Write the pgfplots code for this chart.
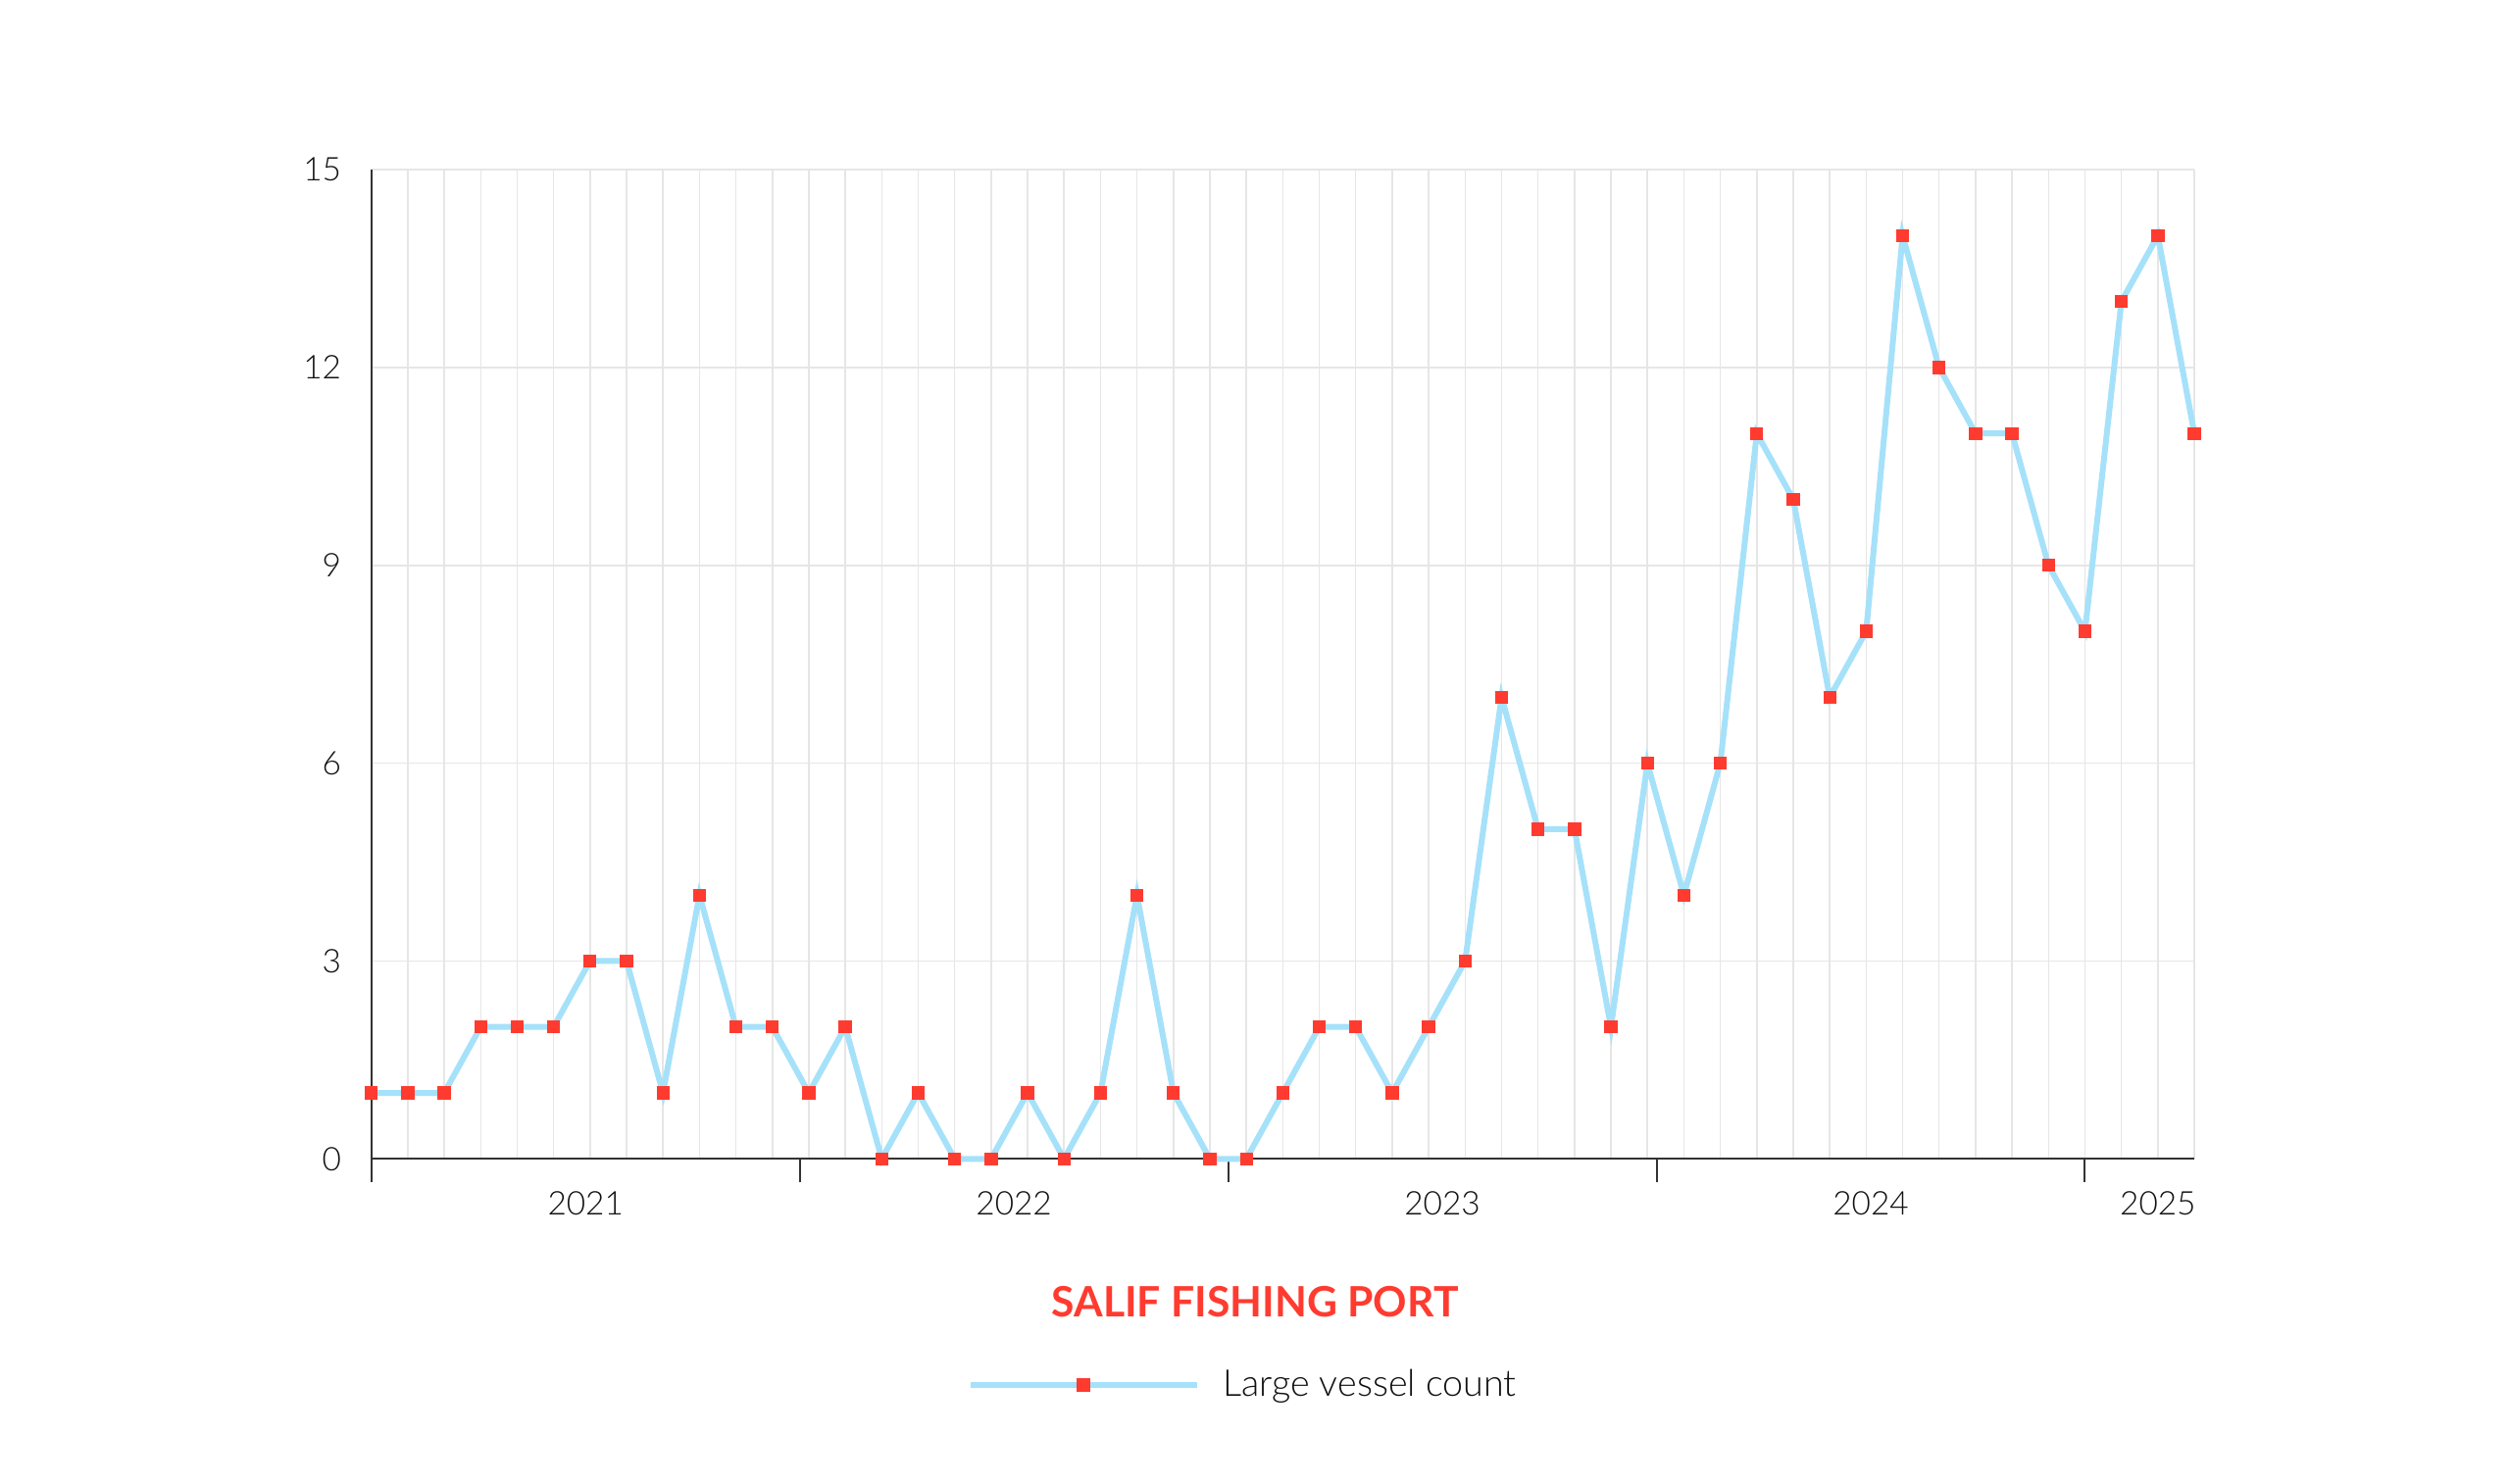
\documentclass[border=0pt]{standalone}
\usepackage{fontspec}
\setmainfont{Lato}[UprightFont=* Light, BoldFont=* Bold]
\usepackage{pgfplots}
\usepackage{pgfplotstable}
\pgfplotsset{compat=1.18}
\definecolor{lineblue}{HTML}{A6E1FA}
\definecolor{mred}{HTML}{FF3B30}
\definecolor{gridgray}{HTML}{E6E6E6}
\definecolor{axgray}{HTML}{333333}
\definecolor{txt}{HTML}{111111}

\pgfplotstableread{
x y
0 1
1 1
2 1
3 2
4 2
5 2
6 3
7 3
8 1
9 4
10 2
11 2
12 1
13 2
14 0
15 1
16 0
17 0
18 1
19 0
20 1
21 4
22 1
23 0
24 0
25 1
26 2
27 2
28 1
29 2
30 3
31 7
32 5
33 5
34 2
35 6
36 4
37 6
38 11
39 10
40 7
41 8
42 14
43 12
44 11
45 11
46 9
47 8
48 13
49 14
50 11
}\vesseltable

\begin{document}
\begin{tikzpicture}
\useasboundingbox (0,0) rectangle (768pt,454.2pt);
\begin{axis}[
  at={(113.61pt,99.51pt)}, anchor=south west,
  scale only axis, width=557.8pt, height=302.76pt,
  xmin=0, xmax=50, ymin=0, ymax=15,
  clip=false,
  axis x line=bottom, axis y line=left,
  axis line style={-, axgray, line width=0.6pt},
  xtick={0,11.75,23.5,35.25,47}, xticklabels={},
  minor xtick={0,1,...,50},
  xminorgrids=true, xmajorgrids=false, ymajorgrids=true,
  ytick={0,3,...,15},
  grid style={gridgray, line width=0.45pt},
  minor grid style={gridgray, line width=0.45pt},
  xtick align=outside, ytick align=inside,
  major tick length=7.2pt, minor tick length=0pt,
  xtick style={axgray, line width=0.6pt},
  ytick style={draw=none},
  yticklabel style={font=\fontsize{10}{12}\selectfont, text=txt, inner sep=0pt, xshift=-9pt},
  /pgf/number format/assume math mode=true,
  legend style={at={(0.4794,-0.2286)}, anchor=center, draw=none, fill=none,
    font=\fontsize{11.3}{13.5}\selectfont, text=txt,
    /tikz/every odd column/.append style={column sep=5pt}},
  legend image code/.code={\draw[mark repeat=2,mark phase=2,#1] plot coordinates {(0pt,0pt) (34.6pt,0pt) (69.3pt,0pt)};},
]
\addplot[color=lineblue, line width=1.8pt, mark=square*, mark size=1.85pt,
  mark options={fill=mred, draw=mred, line width=0pt}] table[x=x, y=y] {\vesseltable};
\addlegendentry{Large vessel count}
\node[font=\fontsize{10}{12}\selectfont, text=txt] at (axis cs:5.875,0) [yshift=-13.7pt] {2021};
\node[font=\fontsize{10}{12}\selectfont, text=txt] at (axis cs:17.625,0) [yshift=-13.7pt] {2022};
\node[font=\fontsize{10}{12}\selectfont, text=txt] at (axis cs:29.375,0) [yshift=-13.7pt] {2023};
\node[font=\fontsize{10}{12}\selectfont, text=txt] at (axis cs:41.125,0) [yshift=-13.7pt] {2024};
\node[font=\fontsize{10}{12}\selectfont, text=txt] at (axis cs:49.0,0) [yshift=-13.7pt] {2025};
\end{axis}
\node[font=\fontsize{12.8}{15}\selectfont\bfseries, text=mred] at (384pt,55.8pt) {SALIF FISHING PORT};
\end{tikzpicture}
\end{document}
